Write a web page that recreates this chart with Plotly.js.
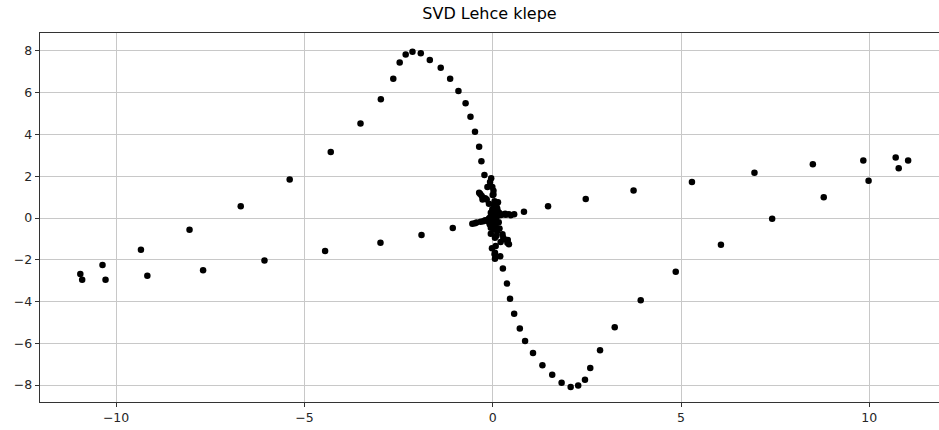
<!DOCTYPE html>
<html>
<head>
<meta charset="utf-8">
<script src="https://cdn.plot.ly/plotly-3.0.1.min.js"></script>
<style>html,body{margin:0;padding:0;background:#fff;}#chart{width:939px;height:430px;}</style>
</head>
<body>
<div id="chart"></div>
<script>
const chartTitle = "SVD Lehce klepe";

// sine-like curve (upper-left and lower-right branches)
const curveX = [-4.30, -3.51, -2.97, -2.64, -2.47, -2.31, -2.13, -1.91, -1.67, -1.38, -1.13, -0.91, -0.72, -0.59, -0.47, -0.36, -0.30, -0.22,
                 0.27, 0.38, 0.46, 0.57, 0.72, 0.86, 1.07, 1.32, 1.58, 1.83, 2.07, 2.27, 2.45, 2.59, 2.85, 3.24, 3.93, 4.86];
const curveY = [3.16, 4.53, 5.69, 6.67, 7.45, 7.83, 7.96, 7.89, 7.57, 7.19, 6.67, 6.08, 5.50, 4.85, 4.13, 3.41, 2.72, 2.06,
                -2.42, -3.14, -3.86, -4.58, -5.29, -5.89, -6.46, -7.05, -7.51, -7.89, -8.09, -8.02, -7.75, -7.18, -6.33, -5.23, -3.94, -2.57];

// dense cluster near the origin
const clusterX = [-0.04, -0.07, -0.14, -0.01, 0.00, -0.36, -0.29, -0.27, 0.02, -0.16, -0.10, 0.10, 0.04, 0.12, -0.01, -0.05, 0.17, 0.30, 0.43, 0.57, 0.48, 0.83,
                  -0.54, -0.43, -0.32, -0.20, -0.10, 0.03, 0.08, -0.01, -0.05, 0.08, 0.12, -0.05, 0.26, 0.06, 0.30, 0.39, 0.21, 0.43, 0.08, 0.06, 0.06, 0.20, 0.05,
                  0.00, 0.02, -0.03, 0.05, -0.07, 0.10, 0.15, -0.12, 0.22, 0.35, -0.25,
                  -0.33, -0.20, 0.05, 0.14, 0.00, -0.08, 0.04, 0.18, 0.28, 0.40, -0.47, 0.10, 0.02, 0.14, -0.02, 0.33, 0.01, 0.16];
const clusterY = [1.90, 1.72, 1.48, 1.48, 1.10, 1.21, 1.05, 0.89, 1.13, 0.89, 0.68, 0.65, 0.60, 0.46, 0.42, 0.25, 0.25, 0.18, 0.18, 0.18, 0.13, 0.30,
                  -0.27, -0.22, -0.18, -0.11, -0.02, 0.05, -0.11, -0.22, -0.46, -0.38, -0.62, -0.75, -0.78, -0.94, -1.02, -1.18, -1.15, -1.26, -1.34, -1.66, -1.95, -1.83, -1.74,
                  0.00, 0.12, 0.08, -0.05, 0.02, 0.05, 0.12, -0.15, 0.15, 0.16, -0.16,
                  1.15, 0.95, 0.80, 0.30, 0.35, -0.30, -0.55, -0.50, -0.95, -1.05, -0.25, -0.85, 1.30, 0.75, -1.45, 0.20, -0.10, -0.20];

// scattered points along the wide band
const outerX = [-10.95, -10.90, -10.36, -10.28, -9.34, -9.17, -8.05, -7.69, -6.69, -6.06, -5.39, -4.45, -2.98, -1.89, -1.06,
                1.47, 2.47, 3.74, 5.29, 6.06, 6.95, 7.42, 8.50, 8.79, 9.84, 9.98, 10.70, 10.78, 11.03];
const outerY = [-2.68, -2.95, -2.25, -2.95, -1.52, -2.76, -0.56, -2.50, 0.56, -2.04, 1.85, -1.58, -1.18, -0.81, -0.48,
                0.56, 0.91, 1.32, 1.72, -1.28, 2.17, -0.03, 2.57, 1.00, 2.76, 1.78, 2.90, 2.38, 2.76];

const xTicks = [-10, -5, 0, 5, 10];
const yTicks = [-8, -6, -4, -2, 0, 2, 4, 6, 8];

const allX = curveX.concat(clusterX, outerX);
const allY = curveY.concat(clusterY, outerY);

const trace = {
  x: allX, y: allY, type: 'scatter', mode: 'markers',
  marker: {color: '#000000', size: 6.5, line: {width: 0}},
  hoverinfo: 'x+y', showlegend: false
};

const axisFont = {family: 'DejaVu Sans', size: 12.5, color: '#262626'};
const layout = {
  width: 939, height: 430,
  margin: {l: 40, r: 0, t: 33, b: 28, pad: 0},
  paper_bgcolor: '#ffffff', plot_bgcolor: '#ffffff',
  title: {text: chartTitle, font: {family: 'DejaVu Sans', size: 16, color: '#000000'},
          x: 0.5, xref: 'paper', xanchor: 'center', y: 1 - 13/430, yanchor: 'middle'},
  xaxis: {range: [-12.02, 11.85], tickvals: xTicks, ticktext: xTicks.map(v => v < 0 ? '\u2212' + Math.abs(v) : String(v)),
          showgrid: true, gridcolor: '#c8c8c8', gridwidth: 1, zeroline: false,
          showline: true, linecolor: '#333333', linewidth: 1.2, mirror: true,
          ticks: 'outside', ticklen: 4, tickwidth: 1, tickcolor: '#333333', tickfont: axisFont},
  yaxis: {range: [-8.81, 8.86], tickvals: yTicks, ticktext: yTicks.map(v => v < 0 ? '\u2212' + Math.abs(v) : String(v)),
          showgrid: true, gridcolor: '#c8c8c8', gridwidth: 1, zeroline: false,
          showline: true, linecolor: '#333333', linewidth: 1.2, mirror: false,
          ticks: 'outside', ticklen: 4, tickwidth: 1, tickcolor: '#333333', tickfont: axisFont}
};

Plotly.newPlot('chart', [trace], layout, {displayModeBar: false, staticPlot: true});
</script>
</body>
</html>
